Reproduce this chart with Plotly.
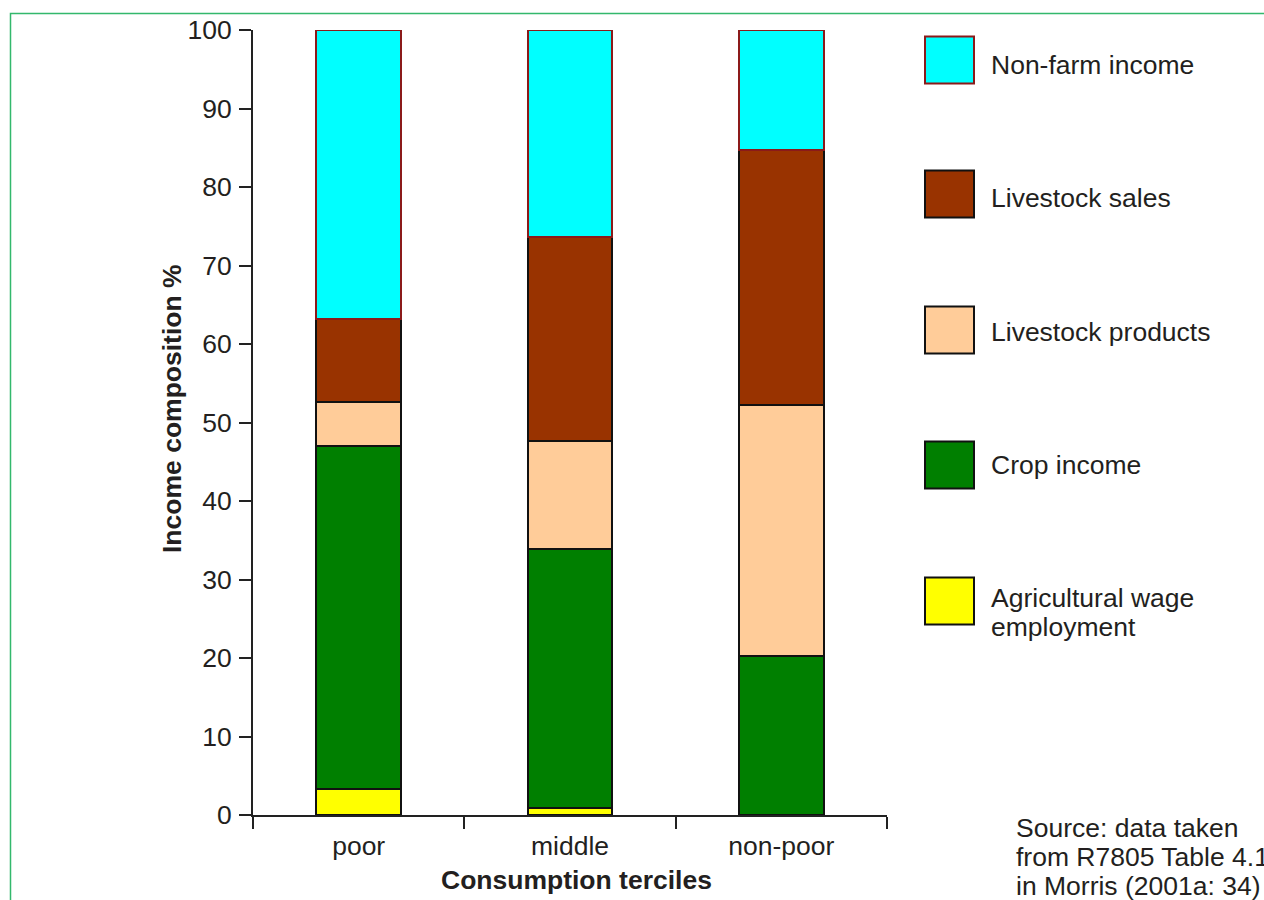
import plotly.graph_objects as go

# Income composition (%) by consumption tercile
terciles = ["poor", "middle", "non-poor"]
ag_wage = [3.3, 0.9, 0.0]
crop_income = [43.7, 33.0, 20.3]
livestock_products = [5.6, 13.7, 31.9]
livestock_sales = [10.6, 26.0, 32.5]
non_farm_income = [36.8, 26.4, 15.3]

series = [
    (["Agricultural wage", "employment"], ag_wage, "#FFFF00", "#111111"),
    (["Crop income"], crop_income, "#007F00", "#111111"),
    (["Livestock products"], livestock_products, "#FFCC99", "#111111"),
    (["Livestock sales"], livestock_sales, "#993300", "#111111"),
    (["Non-farm income"], non_farm_income, "#00FFFF", "#8B1A1A"),
]

FONT = "Liberation Sans, Arial, Helvetica, sans-serif"
TXT = "#231f20"
FS = 26.5
LINE = 29  # line spacing for multi-line labels, px

# plot area in pixels
L, R, T, B = 253, 887, 30, 815
W, H = R - L, B - T


def px(x):
    return (x - L) / W


def py(y):
    return (B - y) / H


def text_lines(lines, x, y_first, bold=False):
    out = []
    for i, s in enumerate(lines):
        out.append(dict(xref="paper", yref="paper", x=px(x), y=py(y_first + i * LINE),
                        text=f"<b>{s}</b>" if bold else s, showarrow=False,
                        xanchor="left", yanchor="middle", align="left",
                        font=dict(family=FONT, size=FS, color=TXT)))
    return out


fig = go.Figure()
for name, vals, color, edge in series:
    fig.add_trace(go.Bar(
        x=terciles, y=vals, name=" ".join(name), width=0.4,
        marker=dict(color=color, line=dict(color=edge, width=2)),
        showlegend=False,
    ))

shapes = []
annotations = []

# outer frame
shapes.append(dict(type="rect", xref="paper", yref="paper",
                   x0=px(10.5), x1=px(1300), y0=py(13.5), y1=py(950),
                   line=dict(color="#33B86C", width=1.5), fillcolor="rgba(0,0,0,0)"))

# legend swatches and labels (top to bottom)
legend_rows = [
    (series[4], 60, 65),
    (series[3], 194, 198),
    (series[2], 330, 332),
    (series[1], 465, 465),
    (series[0], 601, 598),
]
for (name, _, color, edge), cy, ty in legend_rows:
    shapes.append(dict(type="rect", xref="paper", yref="paper",
                       x0=px(925), x1=px(974), y0=py(cy - 23.5), y1=py(cy + 23.5),
                       line=dict(color=edge, width=2), fillcolor=color))
    annotations += text_lines(name, 989, ty)

# source note
annotations += text_lines(["Source: data taken", "from R7805 Table 4.1",
                           "in Morris (2001a: 34)"], 1014, 828)

# axis titles
annotations.append(dict(xref="paper", yref="paper", x=px(172), y=py(409),
                        text="<b>Income composition %</b>", textangle=-90, showarrow=False,
                        xanchor="center", yanchor="middle",
                        font=dict(family=FONT, size=FS, color=TXT)))
annotations.append(dict(xref="paper", yref="paper", x=px(576), y=py(880),
                        text="<b>Consumption terciles</b>", showarrow=False,
                        xanchor="center", yanchor="middle",
                        font=dict(family=FONT, size=FS, color=TXT)))

fig.update_layout(
    width=1264, height=900,
    margin=dict(l=L, r=1264 - R, t=T, b=900 - B, pad=0),
    barmode="stack",
    plot_bgcolor="white", paper_bgcolor="white",
    font=dict(family=FONT, size=FS, color=TXT),
    shapes=shapes, annotations=annotations,
    xaxis=dict(
        type="category", range=[-0.5, 2.5], tickson="boundaries",
        showline=True, linecolor="#222", linewidth=2,
        ticks="outside", ticklen=12, tickwidth=2, tickcolor="#222",
        ticklabelstandoff=6,
        showgrid=False, zeroline=False,
        tickfont=dict(family=FONT, size=FS, color=TXT),
    ),
    yaxis=dict(
        range=[0, 100], tickvals=list(range(0, 101, 10)),
        showline=True, linecolor="#222", linewidth=2,
        ticks="outside", ticklen=12, tickwidth=2, tickcolor="#222",
        ticklabelstandoff=2,
        showgrid=False, zeroline=False,
        tickfont=dict(family=FONT, size=FS, color=TXT),
    ),
)

fig.write_html("out.html")
